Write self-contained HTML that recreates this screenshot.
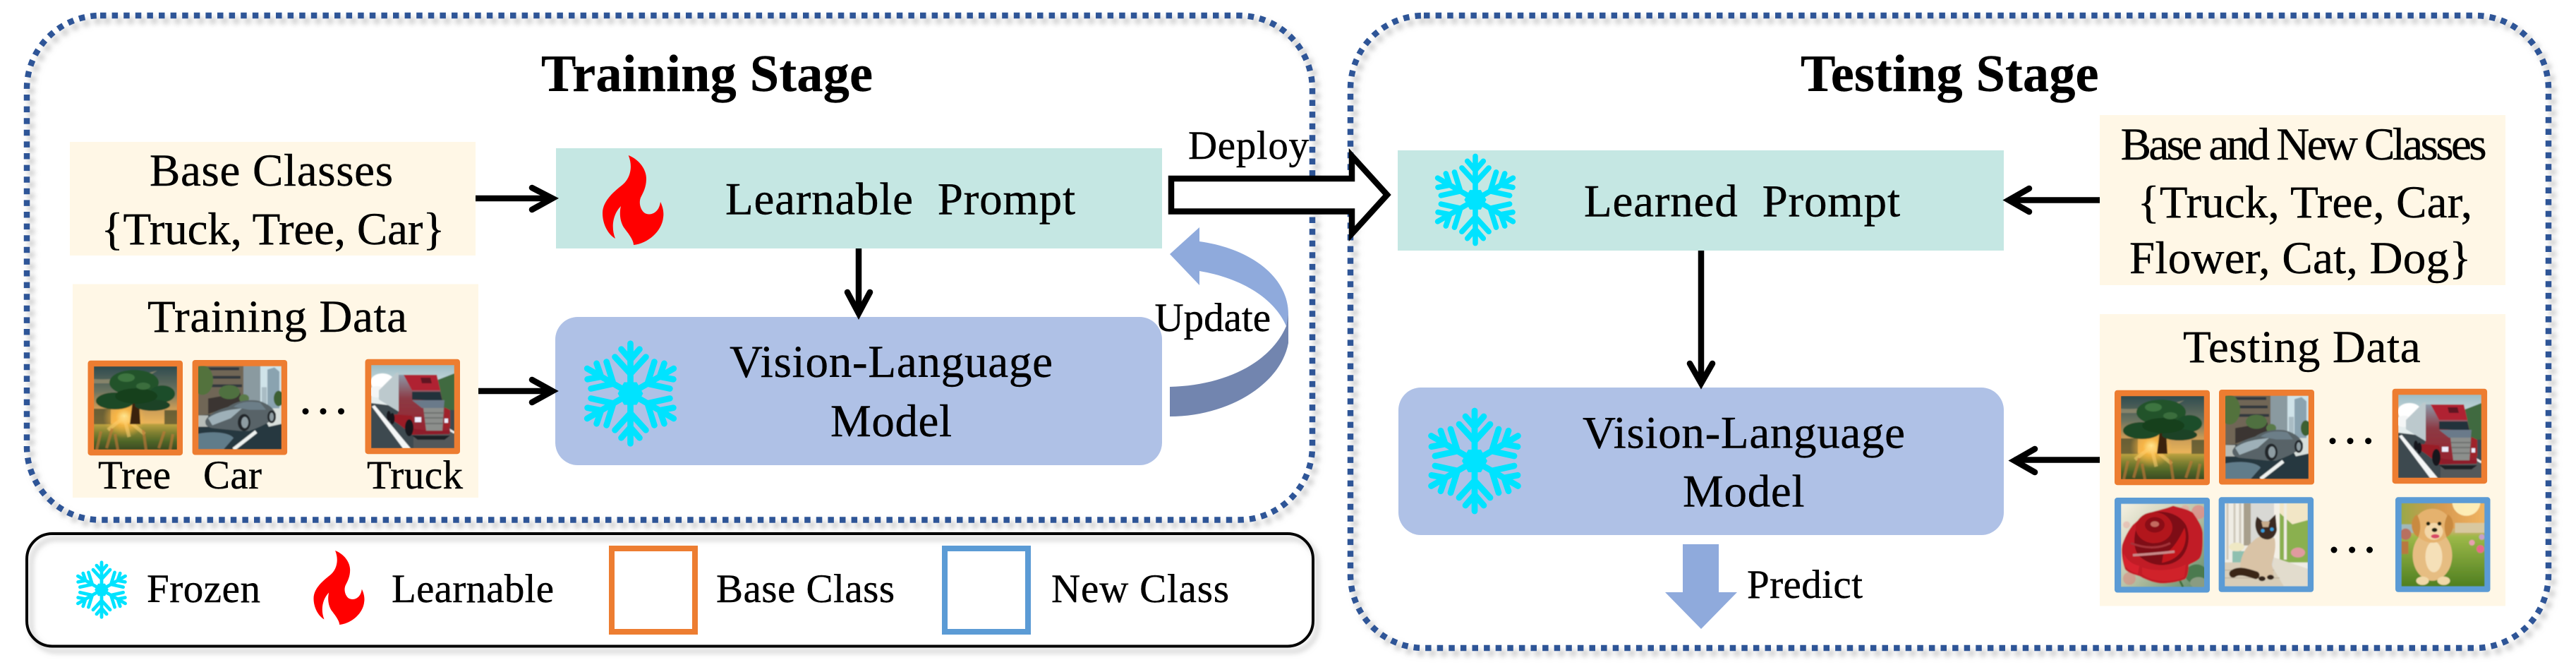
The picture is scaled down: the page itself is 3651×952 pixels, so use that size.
<!DOCTYPE html>
<html><head><meta charset="utf-8"><style>
html,body{margin:0;padding:0;background:#fff;width:3651px;height:952px;overflow:hidden}
svg{display:block}
text{font-family:"Liberation Serif",serif;font-size:65px;fill:#000;stroke:#000;stroke-width:.4px}
.b{font-weight:bold;font-size:74px}
.s{font-size:57px}
</style></head><body>
<svg width="3651" height="952" viewBox="0 0 3651 952" xmlns="http://www.w3.org/2000/svg">
<defs>
<filter id="sh" x="-5%" y="-5%" width="110%" height="115%"><feDropShadow dx="6" dy="7" stdDeviation="4" flood-color="#888" flood-opacity=".55"/></filter>
<filter id="sf" x="-5%" y="-5%" width="110%" height="110%"><feGaussianBlur stdDeviation=".8"/></filter>
<clipPath id="cp"><rect width="118" height="118"/></clipPath>
<symbol id="snow" viewBox="-66.700 -76 133.400 152">
<g stroke="#00E3FF" stroke-width="8.700" stroke-linecap="round" fill="none">
<g id="arm"><path d="M0 0V-71M0-28L-22-52M0-28L22-52M0-48L-13-63M0-48L13-63"/></g>
<use href="#arm" transform="rotate(60)"/><use href="#arm" transform="rotate(120)"/><use href="#arm" transform="rotate(180)"/><use href="#arm" transform="rotate(240)"/><use href="#arm" transform="rotate(300)"/>
</g><path d="M-18 0L-9-16H9L18 0L9 16H-9Z" fill="#00E3FF"/>
</symbol>
<symbol id="flame" viewBox="0 0 87 127" preserveAspectRatio="none">
<path fill="#FF0000" d="M36.700 0C52 6 62 20 62 33C62 45 58 52 54 60C51 68 54 78 60 82C68 86 80 82 82 66C86 74 87 82 86 88C84 108 64 125 44 127C44 120 36 110 30 102C24 92 24 80 26 72C16 82 11 100 18 118C8 112 0 98 0 82C0 64 18 50 28 42C38 34 44 18 36.700 0Z"/>
</symbol>
<linearGradient id="gt" x1="0" y1="0" x2="0" y2="1"><stop offset="0" stop-color="#2e4a4e"/><stop offset=".3" stop-color="#6c7460"/><stop offset=".5" stop-color="#c79a58"/><stop offset=".68" stop-color="#eab45a"/><stop offset=".7" stop-color="#b8a040"/><stop offset=".8" stop-color="#7e7f30"/><stop offset=".9" stop-color="#4f6628"/><stop offset="1" stop-color="#3b4a22"/></linearGradient>
<radialGradient id="gs"><stop offset="0" stop-color="#fff0a0"/><stop offset=".4" stop-color="#ffb840" stop-opacity=".8"/><stop offset="1" stop-color="#ffb840" stop-opacity="0"/></radialGradient>
<linearGradient id="gk" x1="0" y1="0" x2="0" y2="1"><stop offset="0" stop-color="#9dbcc4"/><stop offset=".4" stop-color="#e6eeee"/></linearGradient>
<linearGradient id="gr" x1="0" y1="0" x2="1" y2="1"><stop offset="0" stop-color="#f6f1e2"/><stop offset=".5" stop-color="#bcc4a8"/><stop offset="1" stop-color="#5f8a68"/></linearGradient>
<linearGradient id="gd" x1="0" y1="0" x2="0" y2="1"><stop offset="0" stop-color="#c8a050"/><stop offset=".33" stop-color="#cfb070"/><stop offset=".4" stop-color="#9cb848"/><stop offset="1" stop-color="#4f7f20"/></linearGradient>
<linearGradient id="gdt" x1="0" y1="0" x2="1" y2="0"><stop offset="0" stop-color="#9aa848"/><stop offset=".5" stop-color="#d89a50"/><stop offset="1" stop-color="#f0b460"/></linearGradient>
<linearGradient id="gcab" x1="0" y1="0" x2="0" y2="1"><stop offset="0" stop-color="#8a98a8"/><stop offset=".4" stop-color="#8c3a44"/><stop offset="1" stop-color="#98202c"/></linearGradient>
<symbol id="tree" viewBox="0 0 118 118" preserveAspectRatio="none"><g clip-path="url(#cp)" filter="url(#sf)">
<rect width="118" height="118" fill="url(#gt)"/><path d="M0 18C30 20 60 14 90 6L60 24L0 24Z" fill="#a89a78" opacity=".6"/>
<path d="M0 60H24V82H0ZM100 62H118V82H100Z" fill="#3f4426" opacity=".7"/>
<circle cx="43" cy="72" r="30" fill="url(#gs)"/>
<path d="M43 72L20 90M43 72L50 100M43 72L72 96" stroke="#ffd070" stroke-width="5" opacity=".55"/>
<path d="M4 118L10 92M18 116L26 88M34 118L30 96M74 118L70 90M92 116L100 92M108 118L112 96" stroke="#c07838" stroke-width="4" opacity=".65"/>
<path d="M51 82L55 50H64L66 82Z" fill="#3a240e"/>
<ellipse cx="57" cy="23" rx="35" ry="18" fill="#22522c"/><ellipse cx="30" cy="49" rx="27" ry="12" fill="#1e4a28"/><ellipse cx="97" cy="39" rx="18" ry="12" fill="#1f4d2a"/><ellipse cx="83" cy="55" rx="25" ry="8" fill="#1c4226"/><ellipse cx="60" cy="42" rx="30" ry="11" fill="#18401f"/><ellipse cx="46" cy="16" rx="12" ry="6" fill="#3e7540"/><ellipse cx="70" cy="28" rx="10" ry="5" fill="#3a6e3c"/>
</g></symbol>
<symbol id="car" viewBox="0 0 118 118" preserveAspectRatio="none"><g clip-path="url(#cp)" filter="url(#sf)">
<rect width="118" height="118" fill="#cfe3e9"/>
<path d="M60 0H88V58H60Z" fill="#8a9aa0"/><path d="M98 5L108 2L115 8V62H98Z" fill="#8aa3b0"/><path d="M90 30H97V62H90Z" fill="#a9bcc4"/>
<path d="M0 0H64V50L0 78Z" fill="#6f6656"/><path d="M10 4H58M12 16H60M14 28H62" stroke="#33393c" stroke-width="4"/><path d="M14 46L60 38V52L14 68Z" fill="#3a3530"/>
<ellipse cx="6" cy="20" rx="15" ry="21" fill="#52723c"/><ellipse cx="44" cy="37" rx="15" ry="10" fill="#4f7040"/><ellipse cx="65" cy="46" rx="7" ry="6" fill="#5a7a48"/><ellipse cx="114" cy="46" rx="7" ry="11" fill="#3e6032"/>
<path d="M0 70L118 62V118H0Z" fill="#283840"/><path d="M86 60H118V82L100 86Z" fill="#d8dfdc"/><path d="M0 96C20 92 44 94 50 102L36 118H0Z" fill="#607c8a"/><path d="M0 70H14V86H0Z" fill="#b6bcb8"/>
<path d="M50 118L82 93" stroke="#eef2f0" stroke-width="5"/>
<path d="M10 78C14 68 28 62 42 58C54 50 68 47 84 49C96 52 106 58 110 68C110 74 100 82 72 92H60L20 88C12 86 10 84 10 78Z" fill="#596468"/>
<path d="M14 74C24 66 40 62 62 60L46 74L20 84Z" fill="#9eb0b8"/><path d="M50 58C58 51 72 49 88 52L96 62L72 62Z" fill="#6c7e88"/>
<ellipse cx="65" cy="80" rx="9" ry="12" fill="#20282c"/><ellipse cx="66" cy="80" rx="5" ry="8" fill="#8e9ca2"/><ellipse cx="104" cy="72" rx="6" ry="9" fill="#20282c"/><ellipse cx="104" cy="72" rx="3" ry="6" fill="#8e9ca2"/>
</g></symbol>
<symbol id="truck" viewBox="0 0 118 118" preserveAspectRatio="none"><g clip-path="url(#cp)" filter="url(#sf)">
<rect width="118" height="118" fill="url(#gk)"/><ellipse cx="16" cy="24" rx="17" ry="12" fill="#fff"/><ellipse cx="8" cy="38" rx="12" ry="8" fill="#f4f6f6"/>
<path d="M92 22L118 12V66H92Z" fill="#3f6a40"/>
<path d="M0 54L50 60L118 64V118H0Z" fill="#3c4a50"/><path d="M60 100L118 94V118H60Z" fill="#52585a"/><path d="M1 59L45 118H56L5 57Z" fill="#f4f6f6"/><path d="M108 90L118 96" stroke="#eee" stroke-width="3"/>
<path d="M11 36L36 11H39V66L11 49Z" fill="#bcc9cd"/>
<path d="M39 14H93L98 36L103 59L112 93L111 98L58 99L33 79L39 66Z" fill="url(#gcab)"/>
<path d="M46 14H93L98 36H58Z" fill="#b02432"/><path d="M70 18H84L86 26H72Z" fill="#601820"/>
<path d="M58 38H98L101 51L58 49Z" fill="#24303a"/><path d="M58 50H104L103 61H72Z" fill="#6a7a8a"/>
<path d="M74 61H103L101 93H78Z" fill="#8c8f8c"/><path d="M75 68H103M76 75H102M77 83H102" stroke="#6e7270" stroke-width="2"/>
<path d="M33 70L58 72L62 99L33 80Z" fill="#9a1c28"/><path d="M78 93H112L111 98H62L60 90Z" fill="#8e1e2a"/>
<path d="M104 60L112 64L112 88L104 90Z" fill="#a0202c"/>
<ellipse cx="54" cy="89" rx="6" ry="12" fill="#15191c"/><ellipse cx="30" cy="76" rx="3.500" ry="8" fill="#15191c"/><ellipse cx="25" cy="72" rx="3" ry="7" fill="#15191c"/>
<rect x="62" y="74" width="9" height="7" fill="#eef"/><rect x="104" y="76" width="5" height="6" fill="#eef"/>
<path d="M58 100H112L104 106H66Z" fill="#1c2226"/>
</g></symbol>
<symbol id="rose" viewBox="0 0 118 118" preserveAspectRatio="none"><g clip-path="url(#cp)" filter="url(#sf)">
<rect width="118" height="118" fill="url(#gr)"/><circle cx="110" cy="12" r="10" fill="#e08a88" opacity=".75"/><circle cx="91" cy="8" r="6" fill="#e8a09a" opacity=".6"/><circle cx="12" cy="106" r="9" fill="#d88a80" opacity=".6"/><circle cx="8" cy="30" r="5" fill="#e8a8a0" opacity=".5"/>
<ellipse cx="107" cy="100" rx="16" ry="14" fill="#4c7a50"/><ellipse cx="110" cy="112" rx="12" ry="8" fill="#8a9c82"/><path d="M82 106L88 118" stroke="#3f6e3c" stroke-width="3"/>
<path d="M74 3C84 6 96 8 102 13C110 24 116 34 116 43C116 58 116 70 112 77C108 82 100 84 96 87C96 96 94 104 91 107C78 112 66 113 57 113C46 112 36 108 27 103C18 100 10 98 6 93C2 82 0 68 2 58C6 46 12 36 17 30C24 24 30 18 34 15C48 10 62 8 74 3Z" fill="#c11a28"/>
<path d="M34 15C52 8 80 10 92 30C100 46 96 72 78 82C60 92 36 86 24 72C14 56 20 28 34 15Z" fill="#7e0c16"/>
<ellipse cx="47" cy="34" rx="26" ry="22" fill="#b2141f"/><ellipse cx="48" cy="30" rx="14" ry="11" fill="#8a1018"/><ellipse cx="48" cy="29" rx="6" ry="4" fill="#c46a60"/>
<path d="M60 72C72 68 84 48 90 34C94 46 92 62 82 72C74 80 66 82 58 84Z" fill="#c2161f"/>
<path d="M17 73C34 72 58 70 76 68" stroke="#c88888" stroke-width="3.500" fill="none"/><path d="M14 56C30 62 50 66 70 56" stroke="#a43038" stroke-width="3" fill="none"/>
<path d="M30 90C44 96 74 96 92 86L90 104C74 112 44 112 30 100Z" fill="#d0202c"/><path d="M4 70C8 80 16 86 26 88L24 100C14 96 6 92 4 84Z" fill="#d8242e"/>
</g></symbol>
<symbol id="cat" viewBox="0 0 118 118" preserveAspectRatio="none"><g clip-path="url(#cp)" filter="url(#sf)">
<rect width="118" height="118" fill="#efece4"/><path d="M4 0V80M14 0V76M22 0V70" stroke="#cfc9bc" stroke-width="3"/>
<rect x="27" y="0" width="10" height="60" fill="#a89f8c"/><rect x="37" y="0" width="33" height="100" fill="#d8d8d4"/>
<rect x="78" y="0" width="40" height="84" fill="#8ab050"/><path d="M78 0H118V24L96 30L78 14Z" fill="#f2e6c6"/><ellipse cx="104" cy="70" rx="10" ry="7" fill="#e09aa0"/>
<rect x="70" y="0" width="8" height="78" fill="#f4f0e6"/><rect x="84" y="0" width="4" height="80" fill="#f0ece2"/>
<path d="M70 77L118 93V118H80L66 100Z" fill="#e2dccd"/><path d="M0 84H64L84 118H0Z" fill="#d8cdb8"/><path d="M0 95H70M0 106H78" stroke="#c2b6a0" stroke-width="1.500"/>
<rect x="11" y="68" width="18" height="16" fill="#8fc0b0"/><ellipse cx="17" cy="62" rx="11" ry="6" fill="#efe8c4"/>
<path d="M22 92C22 76 30 62 38 56C44 50 50 46 54 47C62 50 70 48 71 50C74 66 68 80 67 87C68 94 70 100 69 107H51C40 108 24 104 22 92Z" fill="#d9c3a6"/>
<path d="M12 100C20 94 32 98 44 102" stroke="#3a2518" stroke-width="11" stroke-linecap="round" fill="none"/>
<path d="M46 19L54 26H62L72 16L74 38C72 50 62 54 54 50C46 46 40 32 46 19Z" fill="#3a2a20"/><path d="M52 26H64L62 34H54Z" fill="#c8ac8c"/><circle cx="54" cy="39" r="2.600" fill="#3aa0e0"/><circle cx="67" cy="37" r="2.600" fill="#3aa0e0"/>
<ellipse cx="53" cy="107" rx="5" ry="3.500" fill="#35251a"/><ellipse cx="65" cy="105" rx="5" ry="3.500" fill="#35251a"/>
</g></symbol>
<symbol id="dog" viewBox="0 0 118 118" preserveAspectRatio="none"><g clip-path="url(#cp)" filter="url(#sf)">
<rect width="118" height="118" fill="url(#gd)"/><rect width="118" height="36" fill="url(#gdt)"/><circle cx="92" cy="-2" r="20" fill="#fff4c0" opacity=".9"/><rect x="0" y="30" width="22" height="12" fill="#a0b8b8"/><rect x="76" y="28" width="42" height="14" fill="#d8c8a0"/>
<path d="M0 54H10V72H0Z" fill="#b87840"/><circle cx="6" cy="44" r="8" fill="#b87060"/><circle cx="112" cy="65" r="5.500" fill="#e86a88"/><circle cx="100" cy="56" r="4" fill="#e8a0b0"/><circle cx="114" cy="48" r="4" fill="#c8a0c8"/>
<ellipse cx="44" cy="74" rx="28" ry="36" fill="#e6bd82"/><ellipse cx="46" cy="76" rx="12" ry="22" fill="#f5e0b8"/>
<ellipse cx="44" cy="32" rx="26" ry="24" fill="#e5b26e"/><ellipse cx="46" cy="40" rx="13" ry="12" fill="#f3d7a8"/><path d="M22 16C10 24 14 44 24 48C28 38 28 26 22 16ZM66 16C78 24 74 44 64 48C60 38 60 26 66 16Z" fill="#c98a40"/>
<circle cx="38" cy="29" r="2.800" fill="#221"/><circle cx="54" cy="29" r="2.800" fill="#221"/><ellipse cx="47" cy="38" rx="4" ry="3" fill="#221"/><ellipse cx="48" cy="47" rx="6" ry="3" fill="#d84a66"/>
<ellipse cx="30" cy="110" rx="9" ry="6" fill="#f0d8a8"/><ellipse cx="60" cy="110" rx="9" ry="6" fill="#f0d8a8"/>
</g></symbol>
</defs>

<!-- outer containers -->
<g filter="url(#sh)" fill="none">
<rect x="38" y="22" width="1822" height="714.500" rx="104" ry="104" stroke="#2F5597" stroke-width="8.500" stroke-dasharray="8.500 8.100"/>
<rect x="1914" y="22" width="1698" height="896" rx="104" ry="104" stroke="#2F5597" stroke-width="8.500" stroke-dasharray="8.500 8.100"/>
<rect x="38" y="756" width="1823" height="159.500" rx="36" ry="36" stroke="#000" stroke-width="4"/>
</g>

<!-- cream boxes -->
<g fill="#FFF7E6">
<rect x="99" y="201" width="575" height="161"/>
<rect x="103" y="402.500" width="575" height="302.500"/>
<rect x="2976" y="163" width="575" height="241"/>
<rect x="2976" y="445" width="575" height="413.500"/>
</g>

<!-- main boxes -->
<rect x="788" y="210" width="859" height="142" fill="#C5E7E3"/>
<rect x="787" y="449" width="860" height="210" rx="32" ry="32" fill="#AFC1E6"/>
<rect x="1981" y="213" width="859" height="142" fill="#C5E7E3"/>
<rect x="1982" y="549" width="858" height="209" rx="32" ry="32" fill="#AFC1E6"/>

<!-- icons -->
<use href="#flame" x="854" y="220" width="87" height="127"/>
<use href="#snow" x="827" y="481.500" width="133" height="152"/>
<use href="#snow" x="2033" y="217" width="116" height="132"/>
<use href="#snow" x="2023" y="577" width="134" height="152"/>
<use href="#snow" x="107" y="794" width="74" height="83"/>
<use href="#flame" x="444.500" y="780" width="72.500" height="105"/>

<!-- image frames -->
<g fill="#ED7D31">
<rect x="124.500" y="510.700" width="134.500" height="134.500" rx="4"/><rect x="272.600" y="510" width="134.500" height="134.500" rx="4"/><rect x="517.500" y="508.700" width="134.500" height="134.500" rx="4"/>
<rect x="2997" y="552.700" width="135" height="134.500" rx="4"/><rect x="3145" y="552" width="135" height="134.500" rx="4"/><rect x="3390.600" y="550.700" width="134.500" height="134.500" rx="4"/>
</g>
<g fill="#5B9BD5">
<rect x="2997" y="705" width="135" height="134.500" rx="4"/><rect x="3144.600" y="704.300" width="134.500" height="134.500" rx="4"/><rect x="3395" y="704.300" width="134.500" height="134.500" rx="4"/>
</g>
<use href="#tree" x="133" y="519" width="118" height="118"/>
<use href="#car" x="281" y="518.500" width="118" height="118"/>
<use href="#truck" x="526" y="517" width="118" height="118"/>
<use href="#tree" x="3006" y="561" width="118" height="118"/>
<use href="#car" x="3154" y="560.500" width="118" height="118"/>
<use href="#truck" x="3399" y="559" width="118" height="118"/>
<use href="#rose" x="3006" y="713.500" width="118" height="118"/>
<use href="#cat" x="3153" y="712.800" width="118" height="118"/>
<use href="#dog" x="3403.500" y="712.800" width="118" height="118"/>

<!-- dots -->
<g fill="#000">
<circle cx="433" cy="582.700" r="4.500"/><circle cx="458" cy="582.700" r="4.500"/><circle cx="483.500" cy="582.700" r="4.500"/>
<circle cx="3306" cy="624.700" r="4.500"/><circle cx="3331" cy="624.700" r="4.500"/><circle cx="3356.600" cy="624.700" r="4.500"/>
<circle cx="3308" cy="779" r="4.500"/><circle cx="3333.600" cy="779" r="4.500"/><circle cx="3358.500" cy="779" r="4.500"/>
</g>

<!-- legend squares -->
<rect x="867" y="777" width="118" height="118" fill="none" stroke="#ED7D31" stroke-width="8"/>
<rect x="1339" y="777" width="118" height="118" fill="none" stroke="#5B9BD5" stroke-width="8"/>

<!-- black arrows -->
<g fill="none" stroke="#000" stroke-width="8.500" stroke-linecap="round" stroke-linejoin="miter">
<path d="M674 281H782" stroke-linecap="butt"/><path d="M754 266L783 281L754 297"/>
<path d="M678 554H782" stroke-linecap="butt"/><path d="M754 538L783 554L754 570"/>
<path d="M1217 352V444" stroke-linecap="butt"/><path d="M1201 414L1217 444L1233 414"/>
<path d="M2411 355V543" stroke-linecap="butt"/><path d="M2395 515L2411 543L2427 515"/>
<path d="M2976 283.500H2848" stroke-linecap="butt"/><path d="M2876 267L2847 283.500L2876 300"/>
<path d="M2976 651.500H2855" stroke-linecap="butt"/><path d="M2884 636L2855 652.500L2884 669"/>
</g>

<!-- deploy arrow -->
<path d="M1660 253H1916V221L1966 276L1916 331V299.500H1660Z" fill="#fff" stroke="#000" stroke-width="8.500"/>

<!-- update arrow -->
<path d="M1658 360L1700 322V342C1772 352 1826 392 1826 445L1823 462C1805 420 1755 393 1700 384V404Z" fill="#8FAADC"/>
<path d="M1658 548C1735 546 1800 515 1823 462L1826 445V486C1815 545 1740 590 1658 590Z" fill="#7285AF"/>

<!-- predict arrow -->
<path d="M2385 771H2436V839H2462L2411 891L2360 839H2385Z" fill="#8FAADC"/>

<!-- text -->
<text class="b" x="767" y="129" textLength="470">Training Stage</text>
<text class="b" x="2552" y="129" textLength="422.500">Testing Stage</text>
<text x="212" y="263" textLength="345">Base Classes</text>
<text x="143.500" y="346" textLength="487">{Truck, Tree, Car}</text>
<text x="209" y="470" textLength="368">Training Data</text>
<text class="s" x="139" y="692" textLength="103">Tree</text>
<text class="s" x="288" y="692" textLength="83">Car</text>
<text class="s" x="520" y="692" textLength="136">Truck</text>
<text x="1028" y="303.600" textLength="496" xml:space="preserve">Learnable  Prompt</text>
<text x="1034" y="534" textLength="458">Vision-Language</text>
<text x="1177" y="618" textLength="172">Model</text>
<text class="s" x="1684" y="225" textLength="171">Deploy</text>
<text class="s" x="1636.500" y="469" textLength="164.500">Update</text>
<text class="s" x="208" y="853" textLength="161">Frozen</text>
<text class="s" x="555" y="853" textLength="230">Learnable</text>
<text class="s" x="1015" y="853" textLength="253">Base Class</text>
<text class="s" x="1490" y="853" textLength="252">New Class</text>
<text x="2245" y="306.600" textLength="448" xml:space="preserve">Learned  Prompt</text>
<text x="2243" y="634.500" textLength="457">Vision-Language</text>
<text x="2385" y="717.700" textLength="172.500">Model</text>
<text class="s" x="2476" y="847" textLength="164">Predict</text>
<text x="3005.600" y="226" textLength="519">Base and New Classes</text>
<text x="3029.600" y="308" textLength="474.400">{Truck, Tree, Car,</text>
<text x="3018" y="387" textLength="484.500">Flower, Cat, Dog}</text>
<text x="3094" y="513" textLength="336.600">Testing Data</text>
</svg>
</body></html>
